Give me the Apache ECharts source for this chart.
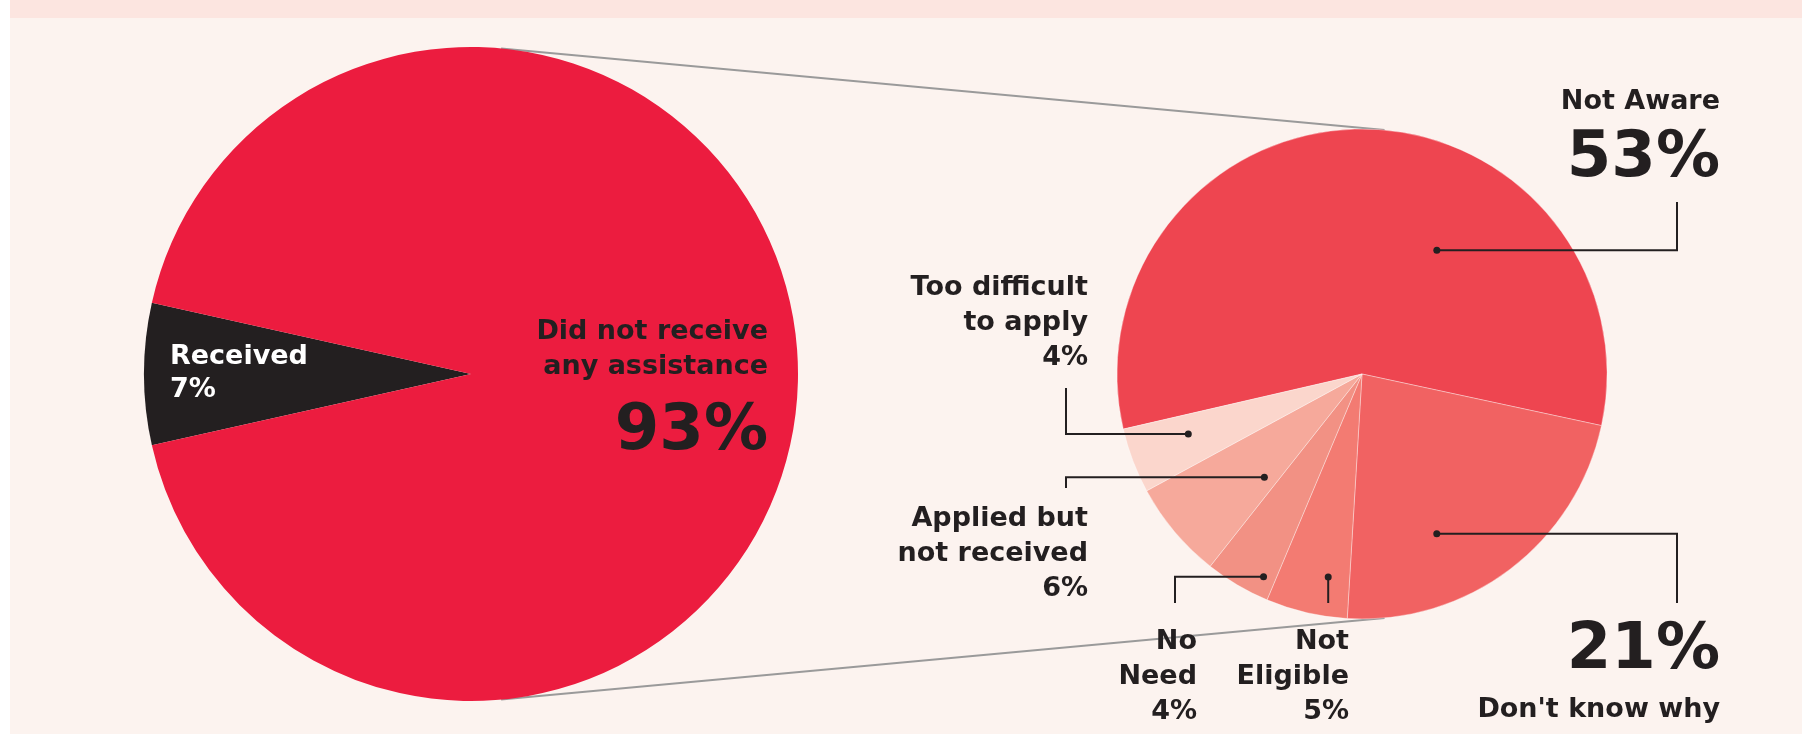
<!DOCTYPE html>
<html lang="en">
  <head>
    <meta charset="UTF-8" />
    <title>Assistance received</title>
    <script src="https://cdn.jsdelivr.net/npm/echarts@6.0.0/dist/echarts.min.js"></script>
    <style>
      body { margin: 0; background: #ffffff; }
    </style>
  </head>
  <body>
    <div id="main" style="width: 1802px; height: 734px"></div>
    <script type="text/javascript">
      // data
      const mainNames = ['Received', 'Did not receive\nany assistance'];
      const mainValues = [7, 93];
      const reasonNames = ['Not Aware', "Don't know why", 'Not\nEligible', 'No\nNeed', 'Applied but\nnot received', 'Too difficult\nto apply'];
      const reasonValues = [53, 21, 5, 4, 6, 4];

      // styles / layout
      const mainColors = ['#231f20', '#ec1c3f'];
      const reasonColors = ['#ee4550', '#f16262', '#f37b72', '#f29184', '#f6a99b', '#fbd6cc'];
      const ink = '#231f20';
      const font = 'DejaVu Sans';

      const leftCenter = [471, 374];
      const leftR = 327;
      const rightCenter = [1362, 374];
      const rightR = 245;
      const rightStart = 193;
      const leftStart = 180 + (mainValues[0] / mainValues.reduce((a, b) => a + b, 0)) * 180;

      // where the dot sits inside each slice (fraction of slice angle, fraction of radius)
      const dotAngleFrac = [0.654, 0.649, 0.31, 0.2, 0.22, 0.61];
      const dotRadiusFrac = [0.59, 0.72, 0.84, 0.92, 0.58, 0.75];
      // label block anchor (right edge, top) and leader elbow
      const reasonLayout = [
        { x: 1720, y: 84, elbowX: 1677, endY: 202, kind: 'bigBelow' },
        { x: 1720, y: 611, elbowX: 1677, endY: 603, kind: 'bigAbove' },
        { x: 1349, y: 624, elbowX: null, endY: 603, kind: 'small' },
        { x: 1197, y: 624, elbowX: 1175, endY: 603, kind: 'small' },
        { x: 1088, y: 501, elbowX: 1066, endY: 488, kind: 'small' },
        { x: 1088, y: 270, elbowX: 1066, endY: 388, kind: 'small' },
      ];

      // dot positions from the pie geometry
      const reasonSum = reasonValues.reduce((a, b) => a + b, 0);
      const dots = [];
      let angle = rightStart;
      reasonValues.forEach((v, i) => {
        const span = (v / reasonSum) * 360;
        const a = ((angle - span * dotAngleFrac[i]) * Math.PI) / 180;
        const r = rightR * dotRadiusFrac[i];
        dots.push([rightCenter[0] + r * Math.cos(a), rightCenter[1] - r * Math.sin(a)]);
        angle -= span;
      });

      // leader lines: dot -> elbow -> label
      const leaders = dots.map((d, i) => {
        const l = reasonLayout[i];
        const ex = l.elbowX == null ? d[0] : l.elbowX;
        return {
          type: 'polyline',
          z: 99,
          shape: { points: [d, [ex, d[1]], [ex, l.endY]] },
          style: { stroke: ink, lineWidth: 2, fill: null },
        };
      });

      // outer tangent lines between the two pies
      const dist = rightCenter[0] - leftCenter[0];
      const th = Math.asin((leftR - rightR) / dist);
      const tangent = (sign) => ({
        type: 'line',
        z: 1,
        shape: {
          x1: leftCenter[0] + leftR * Math.sin(th),
          y1: leftCenter[1] + sign * leftR * Math.cos(th),
          x2: rightCenter[0] + rightR * Math.sin(th),
          y2: rightCenter[1] + sign * rightR * Math.cos(th),
        },
        style: { stroke: '#9a9a9a', lineWidth: 2 },
      });

      const container = document.getElementById('main');
      const myChart = echarts.init(container, null, { width: 1802, height: 734 });

      const baseText = {
        fontFamily: font,
        fontWeight: 'bold',
        fontSize: 27,
        lineHeight: 35,
        color: ink,
      };

      const option = {
        backgroundColor: '#ffffff',
        animation: false,
        graphic: [
          { type: 'rect', z: -10, shape: { x: 10, y: 0, width: 1792, height: 734 }, style: { fill: '#fcf3ef' } },
          { type: 'rect', z: -9, shape: { x: 10, y: 0, width: 1792, height: 18 }, style: { fill: '#fce5e0' } },
          tangent(-1),
          tangent(1),
        ]
          .concat(leaders)
          .concat(
            dots.map((d) => ({
              type: 'circle',
              z: 100,
              shape: { cx: d[0], cy: d[1], r: 3.5 },
              style: { fill: ink },
            }))
          ),
        series: [
          {
            type: 'pie',
            silent: true,
            center: leftCenter,
            radius: leftR,
            startAngle: leftStart,
            avoidLabelOverlap: false,
            data: mainNames.map((n, i) => ({
              name: n,
              value: mainValues[i],
              itemStyle: { color: mainColors[i] },
            })),
            label: Object.assign({}, baseText, {
              show: true,
              position: 'inside',
              formatter: (p) =>
                p.dataIndex === 0
                  ? '{w|' + p.name + '}\n{w|' + p.value + '%}'
                  : p.name + '\n{big|' + p.value + '%}',
              rich: {
                w: { fontFamily: font, fontWeight: 'bold', fontSize: 27, lineHeight: 33, color: '#ffffff' },
                big: { fontFamily: font, fontWeight: 'bold', fontSize: 64, lineHeight: 96, color: ink },
              },
            }),
            labelLine: { show: false },
            labelLayout: (p) =>
              p.dataIndex === 0
                ? { x: 170, y: 340, align: 'left', verticalAlign: 'top' }
                : { x: 768, y: 314, align: 'right', verticalAlign: 'top' },
          },
          {
            type: 'pie',
            silent: true,
            center: rightCenter,
            radius: rightR,
            startAngle: rightStart,
            avoidLabelOverlap: false,
            itemStyle: { borderColor: 'rgba(255,255,255,0.35)', borderWidth: 1 },
            data: reasonNames.map((n, i) => ({
              name: n,
              value: reasonValues[i],
              itemStyle: { color: reasonColors[i] },
            })),
            label: Object.assign({}, baseText, {
              show: true,
              position: 'outside',
              align: 'right',
              formatter: (p) => {
                const kind = reasonLayout[p.dataIndex].kind;
                if (kind === 'bigBelow') return p.name + '\n{big|' + p.value + '%}';
                if (kind === 'bigAbove') return '{big|' + p.value + '%}\n' + p.name;
                return p.name + '\n' + p.value + '%';
              },
              rich: {
                big: { fontFamily: font, fontWeight: 'bold', fontSize: 64, lineHeight: 81, color: ink },
              },
            }),
            labelLine: { show: false },
            labelLayout: (p) => {
              const l = reasonLayout[p.dataIndex];
              return { x: l.x, y: l.y, align: 'right', verticalAlign: 'top' };
            },
          },
        ],
      };

      myChart.setOption(option);
    </script>
  </body>
</html>
